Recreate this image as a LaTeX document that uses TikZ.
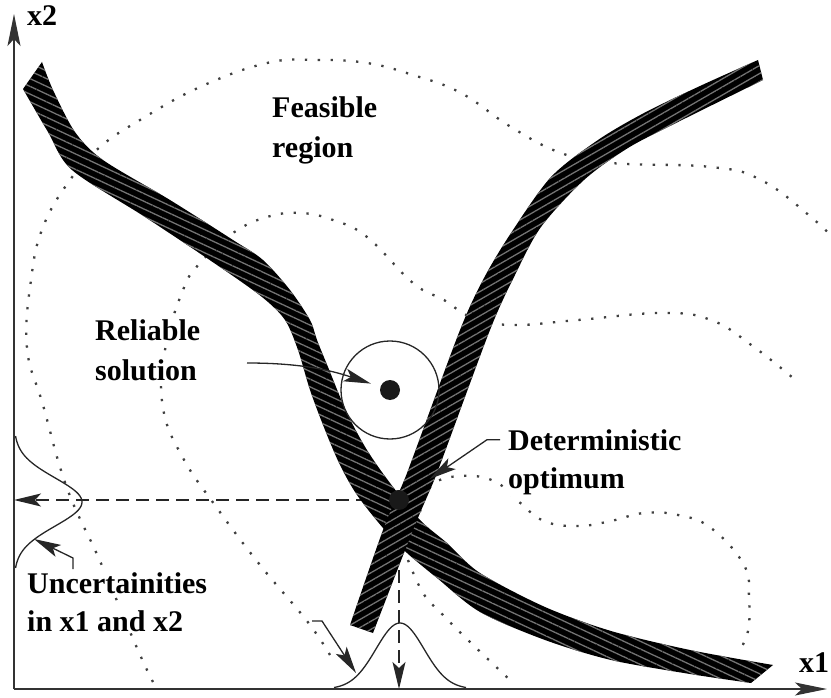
\documentclass[tikz,border=0pt]{standalone}
\usepackage{fontspec}
\setmainfont{Liberation Serif}
\usetikzlibrary{arrows.meta, patterns.meta, calc}

\tikzdeclarepattern{
  name=hatchdown,
  bounding box={(0pt,-1pt) and (7pt,1pt)},
  tile size={(7pt,7pt)},
  tile transformation={rotate=-25},
  code={\draw[line width=1.3pt] (0pt,0pt) -- (7pt,0pt);}
}
\tikzdeclarepattern{
  name=hatchup,
  bounding box={(0pt,-1pt) and (7pt,1pt)},
  tile size={(7pt,7pt)},
  tile transformation={rotate=30},
  code={\draw[line width=1.3pt] (0pt,0pt) -- (7pt,0pt);}
}

\begin{document}
\begin{tikzpicture}[
    x=1pt, y=-1pt,
    >={Stealth[length=27pt, width=13pt, inset=6pt]},
    lbl/.style={font=\bfseries\fontsize{30}{36}\selectfont, anchor=base west,
                inner sep=2pt, fill=white},
    axlbl/.style={font=\bfseries\fontsize{30}{36}\selectfont, anchor=base west,
                  inner sep=0pt},
    contour/.style={draw=black!75, line width=2.3pt, dash pattern=on 2.3pt off 10.5pt},
    guide/.style={draw=black!85, line width=1.3pt, dash pattern=on 13pt off 7pt, ->},
    wire/.style={draw=black!85, line width=1.3pt},
    ptr/.style={wire, ->},
    axis/.style={draw=black!80, line width=1.6pt,
                 -{Stealth[length=32pt, width=13pt, inset=7pt]}},
    bandA/.style={preaction={fill=black}, pattern=hatchdown, pattern color=black!55},
    bandB/.style={preaction={fill=black}, pattern=hatchup, pattern color=black!55},
    soln/.style={circle, fill=black!90, minimum size=20pt, inner sep=0pt}
]
\useasboundingbox (0,0) rectangle (831,698);

% dotted level curves
\draw[contour] plot[smooth, tension=0.7] coordinates {
    (153,682) (137,648) (100,561) (67,488) (43,405) (27,348) (31,280) (43,227)
    (70,180) (100,147) (140,120) (200,87) (267,63) (317,60) (367,63) (413,75)
    (461,93) (511,127) (561,153) (611,163) (711,167) (761,180) (811,217) (840,245)};
\draw[contour] plot[smooth, tension=0.7] coordinates {
    (330,655) (307,621) (260,565) (217,508) (183,458) (163,408) (165,350)
    (183,290) (200,263) (233,233) (267,217) (300,213) (333,220) (367,237)
    (413,283) (444,300) (471,317) (511,325) (578,320) (661,313) (711,320)
    (754,347) (799,383)};
\draw[contour] plot[smooth, tension=0.7] coordinates {
    (420,512) (432,485) (461,476) (494,481) (518,501) (544,521) (578,526)
    (611,521) (644,513) (678,515) (711,528) (744,565) (749,598) (748,631)
    (739,651)};
\draw[contour] plot[smooth, tension=0.7] coordinates {
    (408,560) (423,593) (441,613) (468,640) (491,662) (512,682)};

% labels
\node[lbl] (feasA) at (270,118) {Feasible};
\node[lbl] (feasB) at (270,158) {region};
\node[lbl] (relA) at (93,340) {Reliable};
\node[lbl] (relB) at (93,380) {solution};
\node[lbl] (detA) at (506,450) {Deterministic};
\node[lbl] (detB) at (506,488) {optimum};
\node[lbl] (uncA) at (25,593) {Uncertainities};
\node[lbl] (uncB) at (25,631) {in x1 and x2};

\coordinate (O) at (14,689);
\coordinate (x2end) at (14,14);
\coordinate (x1end) at (827,689);
\node[soln] (opt) at (399,500) {};

% projections of the optimum
\draw[guide] (opt) -- (opt -| O);
\draw[guide] (opt) -- (opt |- O);

% input distributions
\draw[wire] plot[domain=-66:66, samples=67, smooth]
    ({14+68*exp(-0.5*(\x/24)*(\x/24))}, {502+\x});
\draw[wire] plot[domain=-66:66, samples=67, smooth]
    ({400+\x}, {689-66*exp(-0.5*(\x/24)*(\x/24))});

% axes
\draw[axis] (O) -- (x2end);
\draw[axis] (O) -- (x1end);
\node[axlbl] (xtwo) at (27,26) {x2};
\node[axlbl] (xone) at (799,672) {x1};

% constraint bands
\path[bandA] plot[smooth, tension=0.5] coordinates {
    (42,62) (53,90) (75,132) (103,160) (170,200) (233,240) (263,260)
    (290,290) (310,320) (317,340) (328,367) (347,413) (367,450) (390,483)
    (420,520) (447,543) (480,573) (545,607) (611,631) (690,650) (773,665)}
  -- plot[smooth, tension=0.5] coordinates {
    (751,683) (690,674) (611,660) (545,640) (480,612) (437,578) (407,553)
    (383,528) (357,495) (340,465) (325,430) (310,390) (298,350) (285,320)
    (262,297) (217,265) (145,217) (72,170) (48,132) (23,89)} -- cycle;
\path[bandB] plot[smooth, tension=0.5] coordinates {
    (350,625) (383,530) (403,483) (413,457) (460,330) (484,278) (511,233)
    (551,177) (598,140) (644,113) (700,86) (758,60)}
  -- plot[smooth, tension=0.5] coordinates {
    (763,80) (678,122) (628,148) (584,180) (541,227) (515,275) (490,330)
    (443,457) (433,483) (413,530) (373,633)} -- cycle;

% solutions
\node[soln] (rel) at (390,390) {};
\node[circle, wire, minimum size=98pt, inner sep=0pt] (relzone) at (rel) {};
\node[soln] at (opt) {};

% pointers
\coordinate (relstart) at (247,363);
\coordinate (uncstart) at (73,569);
\coordinate (lgpt) at (34,539);
\coordinate (bgstart) at (312,621);
\coordinate (bgpt) at (356,673);
\draw[ptr, shorten >=10pt] (relstart) .. controls (300,363) and (330,370) .. (rel);
\draw[ptr, shorten >=27pt] ([xshift=-6pt]detA.west) -- ++(-13,0) -- (opt);
\draw[ptr] (uncstart) -- ++(0,-11) -- (lgpt);
\draw[ptr] (bgstart) -- ++(10,0) -- (bgpt);
\end{tikzpicture}
\end{document}
